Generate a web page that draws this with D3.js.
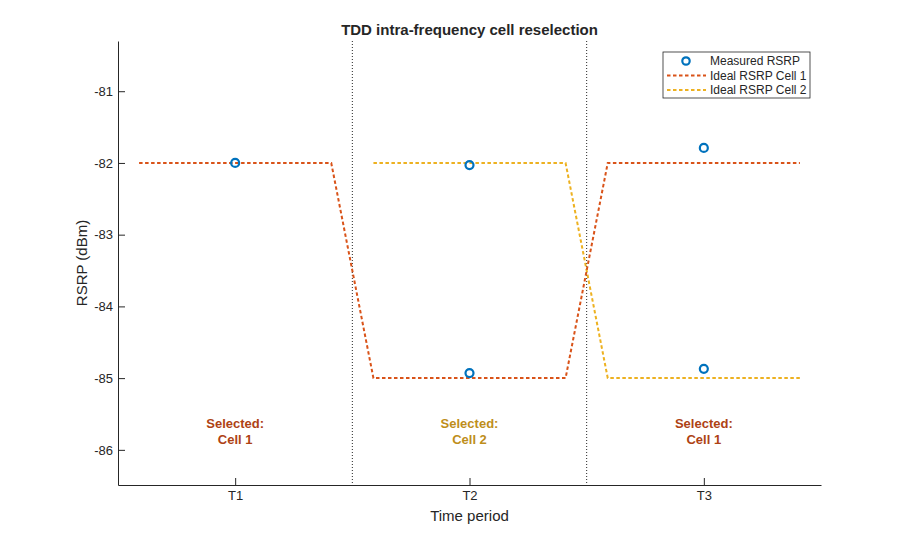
<!DOCTYPE html>
<html>
<head>
<meta charset="utf-8">
<script src="https://cdn.jsdelivr.net/npm/d3@7"></script>
<style>
  body { margin: 0; background: #fff; }
  svg { font-family: "Liberation Sans", Arial, sans-serif; }
</style>
</head>
<body>
<div id="chart"></div>
<script>
// time periods on the x axis
var periods = ['T1', 'T2', 'T3'];
var yTicks = [-86, -85, -84, -83, -82, -81];

// ideal RSRP traces (x in period units, y in dBm)
var cell1X = [0.59, 1.41, 1.59, 2.41, 2.59, 3.41];
var cell1Y = [-82, -82, -85, -85, -82, -82];
var cell2X = [1.59, 2.41, 2.59, 3.41];
var cell2Y = [-82, -82, -85, -85];

// measured samples
var measX = [1, 2, 2, 3, 3];
var measY = [-82.0, -82.03, -84.93, -81.79, -84.87];

// period boundaries
var boundaries = [1.5, 2.5];

// selected cell labels
var selX = [1, 2, 3];
var selCell = [1, 2, 1];

var W = 908, H = 546;
var margin = { left: 118, right: 87, top: 41, bottom: 61 };

var svg = d3.select('#chart').append('svg')
    .attr('width', W).attr('height', H);

var x = d3.scaleLinear().domain([0.5, 3.5]).range([margin.left, W - margin.right]);
var y = d3.scaleLinear().domain([-86.49, -80.3]).range([H - margin.bottom, margin.top]);

var colors = { 1: '#D95319', 2: '#EDB120' };
var textColors = { 1: '#AE4214', 2: '#BE8E1A' };

// axes
var xAxis = d3.axisBottom(x).tickValues([1, 2, 3])
    .tickFormat(function (d) { return periods[d - 1]; })
    .tickSizeInner(-7).tickSizeOuter(0).tickPadding(6);
var yAxis = d3.axisLeft(y).tickValues(yTicks)
    .tickFormat(function (d) { return String(d); })
    .tickSizeInner(-7).tickSizeOuter(0).tickPadding(5);

var gx = svg.append('g')
    .attr('transform', 'translate(0,' + (H - margin.bottom) + ')')
    .call(xAxis);
var gy = svg.append('g')
    .attr('transform', 'translate(' + margin.left + ',0)')
    .call(yAxis);

[gx, gy].forEach(function (g) {
    g.attr('font-size', 13).attr('font-family', null);
    g.selectAll('path, line').attr('stroke', '#262626').attr('stroke-width', 1);
    g.selectAll('text').attr('fill', '#262626');
});

// boundaries
svg.selectAll('line.bound').data(boundaries).enter().append('line')
    .attr('class', 'bound')
    .attr('x1', function (d) { return x(d); })
    .attr('x2', function (d) { return x(d); })
    .attr('y1', margin.top).attr('y2', H - margin.bottom)
    .attr('stroke', '#262626').attr('stroke-width', 1)
    .attr('stroke-dasharray', '1,2');

var line = d3.line()
    .x(function (d) { return x(d[0]); })
    .y(function (d) { return y(d[1]); });

function trace(xs, ys, color) {
    svg.append('path')
        .datum(d3.zip(xs, ys))
        .attr('d', line)
        .attr('fill', 'none')
        .attr('stroke', color)
        .attr('stroke-width', 2)
        .attr('stroke-dasharray', '3.5,2.5');
}
trace(cell2X, cell2Y, colors[2]);
trace(cell1X, cell1Y, colors[1]);

// measured markers
svg.selectAll('circle.meas').data(d3.zip(measX, measY)).enter().append('circle')
    .attr('class', 'meas')
    .attr('cx', function (d) { return x(d[0]); })
    .attr('cy', function (d) { return y(d[1]); })
    .attr('r', 4)
    .attr('fill', 'none')
    .attr('stroke', '#0072BD')
    .attr('stroke-width', 2.2);

// selected labels
var sel = svg.selectAll('text.sel').data(d3.zip(selX, selCell)).enter().append('text')
    .attr('class', 'sel')
    .attr('text-anchor', 'middle')
    .attr('x', function (d) { return x(d[0]); })
    .attr('y', y(-85.69))
    .attr('fill', function (d) { return textColors[d[1]]; })
    .style('font-size', '13px')
    .style('font-weight', 'bold');
sel.append('tspan').attr('x', function (d) { return x(d[0]); }).text('Selected:');
sel.append('tspan').attr('x', function (d) { return x(d[0]); }).attr('dy', 16)
    .text(function (d) { return 'Cell ' + d[1]; });

// title and axis labels
svg.append('text')
    .attr('x', x(2)).attr('y', 35)
    .attr('text-anchor', 'middle')
    .attr('fill', '#262626')
    .style('font-size', '15px').style('font-weight', 'bold')
    .text('TDD intra-frequency cell reselection');

svg.append('text')
    .attr('x', x(2)).attr('y', 521)
    .attr('text-anchor', 'middle')
    .attr('fill', '#262626')
    .style('font-size', '15px')
    .text('Time period');

svg.append('text')
    .attr('transform', 'translate(87,' + ((margin.top + H - margin.bottom) / 2) + ') rotate(-90)')
    .attr('text-anchor', 'middle')
    .attr('fill', '#262626')
    .style('font-size', '15px')
    .text('RSRP (dBm)');

// legend
var lg = svg.append('g').attr('transform', 'translate(663,52)');
lg.append('rect').attr('width', 147).attr('height', 46)
    .attr('fill', '#fff').attr('stroke', '#262626').attr('stroke-width', 0.8);
var items = [
    { label: 'Measured RSRP', type: 'marker' },
    { label: 'Ideal RSRP Cell 1', type: 'line', color: colors[1] },
    { label: 'Ideal RSRP Cell 2', type: 'line', color: colors[2] }
];
items.forEach(function (it, i) {
    var cy = 9 + i * 14.5;
    if (it.type === 'marker') {
        lg.append('circle').attr('cx', 23).attr('cy', cy).attr('r', 3.7)
            .attr('fill', 'none').attr('stroke', '#0072BD').attr('stroke-width', 2.2);
    } else {
        lg.append('line').attr('x1', 4).attr('x2', 43).attr('y1', cy).attr('y2', cy)
            .attr('stroke', it.color).attr('stroke-width', 2).attr('stroke-dasharray', '3.5,2.5');
    }
    lg.append('text').attr('x', 47).attr('y', cy + 4)
        .attr('fill', '#262626').style('font-size', '12px').text(it.label);
});
</script>
</body>
</html>
